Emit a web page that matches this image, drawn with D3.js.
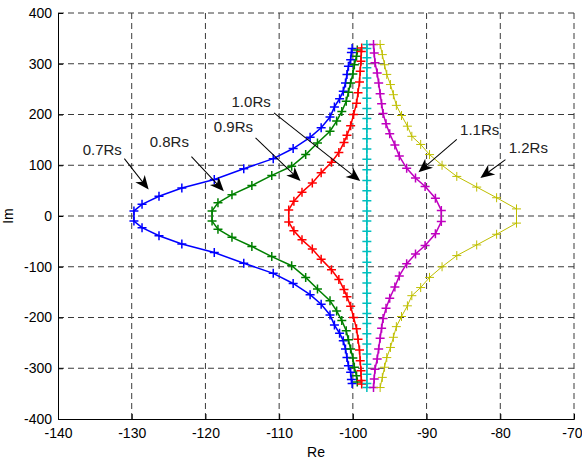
<!DOCTYPE html>
<html>
<head>
<meta charset="utf-8">
<script src="https://cdn.jsdelivr.net/npm/d3@7"></script>
<style>
	body { margin: 0; background: #fff; }
	text { font-family: 'Liberation Sans', Arial, sans-serif; }
</style>
</head>
<body>
<div id="chart"></div>
<script>
// upper half of each locus [Re, Im]; the lower half is the conjugate
const xTicks = [-140, -130, -120, -110, -100, -90, -80, -70];
const yTicks = [-400, -300, -200, -100, 0, 100, 200, 300, 400];

const locus07 = [[-129.7, 10], [-128.6, 23], [-126.3, 39], [-123.2, 55], [-118.8, 72], [-114.8, 93],
	[-110.8, 113], [-108.1, 133], [-105.8, 155], [-104.3, 174], [-103.1, 195], [-102.5, 215],
	[-101.8, 231], [-101.3, 246], [-101.0, 262], [-100.8, 279], [-100.6, 295], [-100.3, 308],
	[-100.2, 322], [-100.1, 330]];
const locus08 = [[-119.1, 10], [-118.3, 26], [-116.4, 42], [-113.7, 60], [-111.0, 80], [-108.3, 98],
	[-106.4, 121], [-104.8, 144], [-103.1, 167], [-102.2, 187], [-101.5, 206], [-100.9, 226],
	[-100.6, 244], [-100.3, 262], [-100.0, 280], [-99.8, 298], [-99.5, 315], [-99.4, 327]];
const locus09 = [[-108.7, 12], [-108.0, 29], [-106.9, 47], [-105.5, 65], [-104.3, 85], [-102.9, 106],
	[-101.9, 125], [-101.2, 145], [-100.8, 159], [-100.3, 178], [-99.9, 200], [-99.5, 222],
	[-99.3, 243], [-99.1, 264], [-99.0, 285], [-98.9, 305], [-98.85, 324], [-98.8, 331]];
const locus10 = [[-98.1, 10], [-98.1, 30], [-98.1, 50], [-98.1, 70], [-98.1, 91], [-98.1, 112],
	[-98.1, 132], [-98.1, 152], [-98.1, 172], [-98.1, 192], [-98.1, 212], [-98.1, 232],
	[-98.1, 252], [-98.1, 272], [-98.1, 292], [-98.1, 312], [-98.1, 330], [-98.1, 338]];
const locus11 = [[-88.0, 11], [-88.8, 35], [-90.2, 58], [-91.5, 75], [-92.7, 94], [-93.7, 118],
	[-94.3, 140], [-95.0, 162], [-95.5, 182], [-95.9, 202], [-96.1, 221], [-96.3, 241],
	[-96.5, 262], [-96.7, 282], [-97.0, 302], [-97.1, 321], [-97.2, 338]];
const locus12 = [[-77.8, 14], [-80.5, 36], [-83.2, 57], [-85.9, 78], [-87.9, 100], [-89.6, 121],
	[-90.8, 141], [-92.0, 157], [-92.6, 177], [-93.4, 198], [-94.1, 218], [-94.5, 239],
	[-94.9, 259], [-95.4, 279], [-95.7, 298], [-96.0, 318], [-96.3, 338]];

const seriesColors = ['#0000ff', '#008000', '#ff0000', '#00bfbf', '#bf00bf', '#bfbf00'];
const seriesWidths = [1.5, 1.5, 1.5, 1.5, 1.5, 1];

// label [Re, Im], arrow tail [Re, Im], arrow tip [Re, Im]
const labelNames = ['0.7Rs', '0.8Rs', '0.9Rs', '1.0Rs', '1.1Rs', '1.2Rs'];
const labelPos = [[-134, 131], [-124.9, 147], [-116.2, 176], [-113.8, 226], [-82.8, 170], [-76.2, 135]];
const arrowFrom = [[-131, 113], [-121.9, 117], [-113.2, 154], [-110.7, 203], [-85.9, 151], [-79.3, 111]];
const arrowTo = [[-127.7, 52], [-117.5, 49], [-107.1, 69], [-99, 69], [-91.1, 86], [-82.7, 75]];

const options = {
	width: 582,
	height: 460,
	margin: { top: 13, right: 8, bottom: 41, left: 58 },
	grid: '#3a3a3a'
};

function drawChart(containerId) {
	const m = options.margin;
	const w = options.width - m.left - m.right;
	const h = options.height - m.top - m.bottom;

	var $svg = d3.select(`#${containerId}`).append('svg')
		.attr('width', options.width)
		.attr('height', options.height)
		.style('display', 'block');

	var $g = $svg.append('g').attr('transform', `translate(${m.left},${m.top})`);

	const x = d3.scaleLinear().domain([-140, -70]).range([0, w]);
	const y = d3.scaleLinear().domain([-400, 400]).range([h, 0]);

	// dashed grid
	$g.append('g').selectAll('line')
		.data(xTicks.slice(1))
		.enter().append('line')
		.attr('x1', d => x(d)).attr('x2', d => x(d))
		.attr('y1', 0).attr('y2', h)
		.attr('stroke', options.grid)
		.attr('stroke-dasharray', '6,4');
	$g.append('g').selectAll('line')
		.data(yTicks.slice(1))
		.enter().append('line')
		.attr('x1', 0).attr('x2', w)
		.attr('y1', d => y(d)).attr('y2', d => y(d))
		.attr('stroke', options.grid)
		.attr('stroke-dasharray', '6,4');

	// axes, ticks inward, plain hyphen minus
	const fmt = d => String(d);
	const xAxis = d3.axisBottom(x).tickValues(xTicks).tickFormat(fmt).tickSize(-5).tickPadding(9);
	const yAxis = d3.axisLeft(y).tickValues(yTicks).tickFormat(fmt).tickSize(-5).tickPadding(6);

	$g.append('g').attr('transform', `translate(0,${h})`).call(xAxis)
		.call(a => a.selectAll('text').attr('font-size', 14).attr('fill', '#000'))
		.call(a => a.selectAll('.tick:last-of-type text').attr('text-anchor', 'end').attr('dx', 8))
		.call(a => a.select('.domain').attr('stroke', '#000'));
	$g.append('g').call(yAxis)
		.call(a => a.selectAll('text').attr('font-size', 14).attr('fill', '#000'))
		.call(a => a.select('.domain').attr('stroke', '#000'));

	$svg.append('text')
		.attr('x', m.left + x(-105)).attr('y', 457)
		.attr('text-anchor', 'middle').attr('font-size', 14)
		.text('Re');
	$svg.append('text')
		.attr('transform', `translate(13,${m.top + y(0)}) rotate(-90)`)
		.attr('text-anchor', 'middle').attr('font-size', 14)
		.text('Im');

	// loci
	const loci = [locus07, locus08, locus09, locus10, locus11, locus12];
	const line = d3.line().x(d => x(d[0])).y(d => y(d[1]));

	loci.forEach((upper, i) => {
		const lower = upper.map(d => [d[0], -d[1]]).reverse();
		const pts = lower.concat(upper);
		var $s = $g.append('g');
		$s.append('path')
			.attr('d', line(pts))
			.attr('fill', 'none')
			.attr('stroke', seriesColors[i])
			.attr('stroke-width', seriesWidths[i]);
		$s.selectAll('path.mk')
			.data(pts)
			.enter().append('path')
			.classed('mk', true)
			.attr('d', d => `M${x(d[0]) - 4.5},${y(d[1])}h9M${x(d[0])},${y(d[1]) - 4.5}v9`)
			.attr('stroke', seriesColors[i])
			.attr('stroke-width', seriesWidths[i]);
	});

	// annotations
	labelNames.forEach((name, i) => {
		$g.append('text')
			.attr('x', x(labelPos[i][0])).attr('y', y(labelPos[i][1]))
			.attr('dy', '0.35em')
			.attr('text-anchor', 'middle')
			.attr('font-size', 15)
			.attr('fill', '#222')
			.text(name);

		const x0 = x(arrowFrom[i][0]), y0 = y(arrowFrom[i][1]);
		const x1 = x(arrowTo[i][0]), y1 = y(arrowTo[i][1]);
		const ang = Math.atan2(y1 - y0, x1 - x0) * 180 / Math.PI;
		const len = Math.hypot(x1 - x0, y1 - y0);
		var $a = $g.append('g')
			.attr('transform', `translate(${x0},${y0}) rotate(${ang})`);
		$a.append('line')
			.attr('x1', 0).attr('y1', 0)
			.attr('x2', len - 8).attr('y2', 0)
			.attr('stroke', '#000').attr('stroke-width', 1);
		$a.append('path')
			.attr('d', `M${len},0L${len - 14},-6L${len - 10},0L${len - 14},6Z`)
			.attr('fill', '#000');
	});
}

drawChart('chart');
</script>
</body>
</html>
